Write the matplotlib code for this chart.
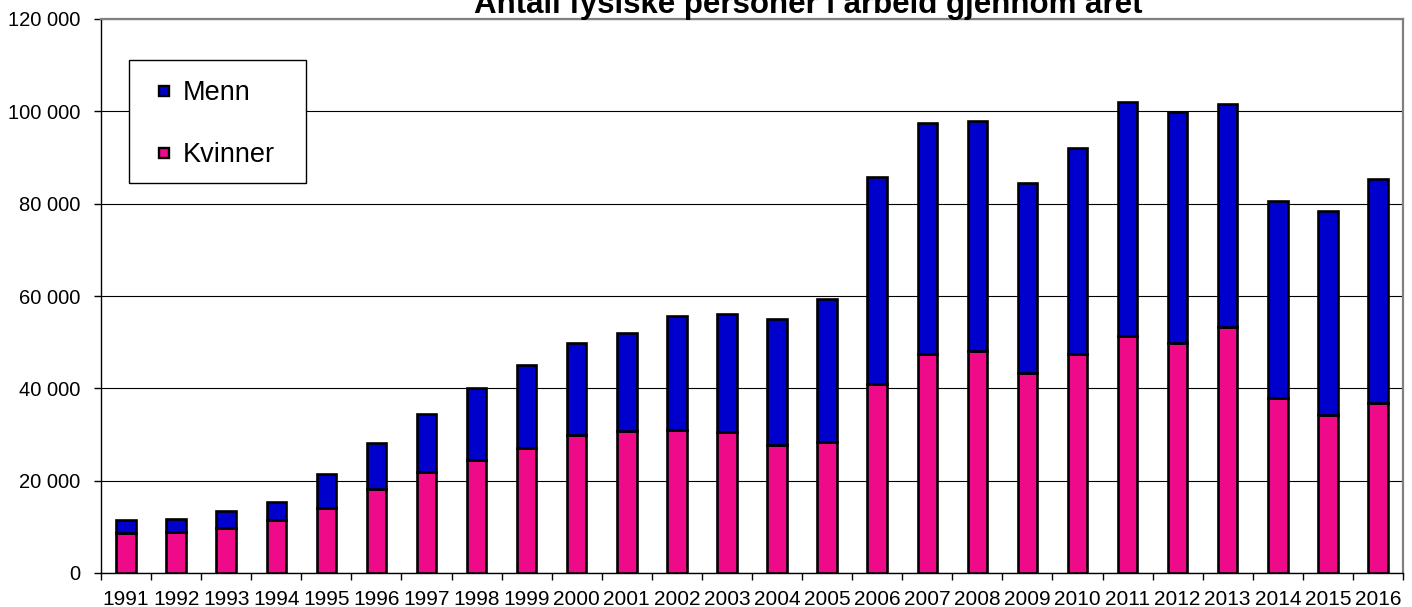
import matplotlib
matplotlib.use("Agg")
import matplotlib.pyplot as plt
from matplotlib.ticker import FuncFormatter, FixedLocator
from matplotlib.patches import Rectangle
from matplotlib.lines import Line2D
import numpy as np

plt.rcParams['font.family'] = ['Liberation Sans', 'DejaVu Sans']

years = [str(y) for y in range(1991, 2017)]
kvinner = [8670, 8820, 9840, 11420, 14090, 18290, 21890, 24570, 27170, 29840,
           30700, 30920, 30490, 27670, 28320, 40950, 47370, 48030, 43360, 47370,
           51390, 49850, 53360, 37810, 34310, 36790]
totals = [11420, 11790, 13370, 15320, 21390, 28170, 34390, 40020, 45000, 49770,
          52090, 55620, 56060, 55120, 59310, 85740, 97450, 97880, 84380, 91970,
          102040, 99850, 101530, 80580, 78320, 85260]
menn = [t - k for t, k in zip(totals, kvinner)]

title = "Antall fysiske personer i arbeid gjennom året"
blue = '#0000cc'
pink = '#ef0a8a'

W, H = 1412, 607
fig = plt.figure(figsize=(W / 100, H / 100), dpi=100)
ax = fig.add_axes([101 / W, 1 - 573 / H, (1403 - 101) / W, (573 - 19) / H])

x = np.arange(len(years))
bw = 0.39
ax.bar(x, kvinner, bw, color=pink, edgecolor='black', linewidth=1.9, label='Kvinner', zorder=3)
ax.bar(x, menn, bw, bottom=kvinner, color=blue, edgecolor='black', linewidth=1.9, label='Menn', zorder=3)

ax.set_xlim(-0.5, len(years) - 0.5)
ax.set_ylim(0, 120000)
ax.set_yticks(np.arange(0, 120001, 20000))
ax.yaxis.set_major_formatter(FuncFormatter(lambda v, p: f"{int(v):,}".replace(",", " ")))
ax.grid(axis='y', color='black', linewidth=0.8, zorder=0)

ax.set_xticks(x)
ax.set_xticklabels(years)
ax.xaxis.set_minor_locator(FixedLocator(np.arange(-0.5, len(years), 1.0)))
ax.tick_params(axis='x', which='major', length=0, labelsize=15, pad=12)
ax.tick_params(axis='x', which='minor', length=5, width=1, direction='out', color='black')
ax.tick_params(axis='y', length=5, width=1, direction='out', labelsize=14.5, pad=10)

for s in ['top', 'right']:
    ax.spines[s].set_color('#808080')
    ax.spines[s].set_linewidth(1.6)
for s in ['left', 'bottom']:
    ax.spines[s].set_color('black')
    ax.spines[s].set_linewidth(1)

# legend box
box = Rectangle((129 / W, 1 - 183 / H), (306 - 129) / W, (183 - 60) / H,
                transform=fig.transFigure, facecolor='white', edgecolor='black',
                linewidth=1, zorder=4)
ax.add_artist(box)
box.set_clip_on(False)

handles = [Line2D([], [], marker='s', linestyle='none', markerfacecolor=blue,
                  markeredgecolor='black', markersize=7.6, markeredgewidth=1.7),
           Line2D([], [], marker='s', linestyle='none', markerfacecolor=pink,
                  markeredgecolor='black', markersize=7.6, markeredgewidth=1.7)]
labels = ['Menn', 'Kvinner']
leg = fig.legend(handles, labels, loc='upper left',
                 bbox_to_anchor=(157 / W, 1 - 80 / H), bbox_transform=fig.transFigure,
                 fontsize=19.5, frameon=False,
                 handlelength=0.5, handletextpad=0.45,
                 labelspacing=1.33, borderpad=0, borderaxespad=0)
leg.set_zorder(5)

fig.text(808 / W, 1 - 13 / H, title, ha='center', va='baseline',
         fontsize=22.5, fontweight='bold')

fig.savefig('out.png', dpi=100)
